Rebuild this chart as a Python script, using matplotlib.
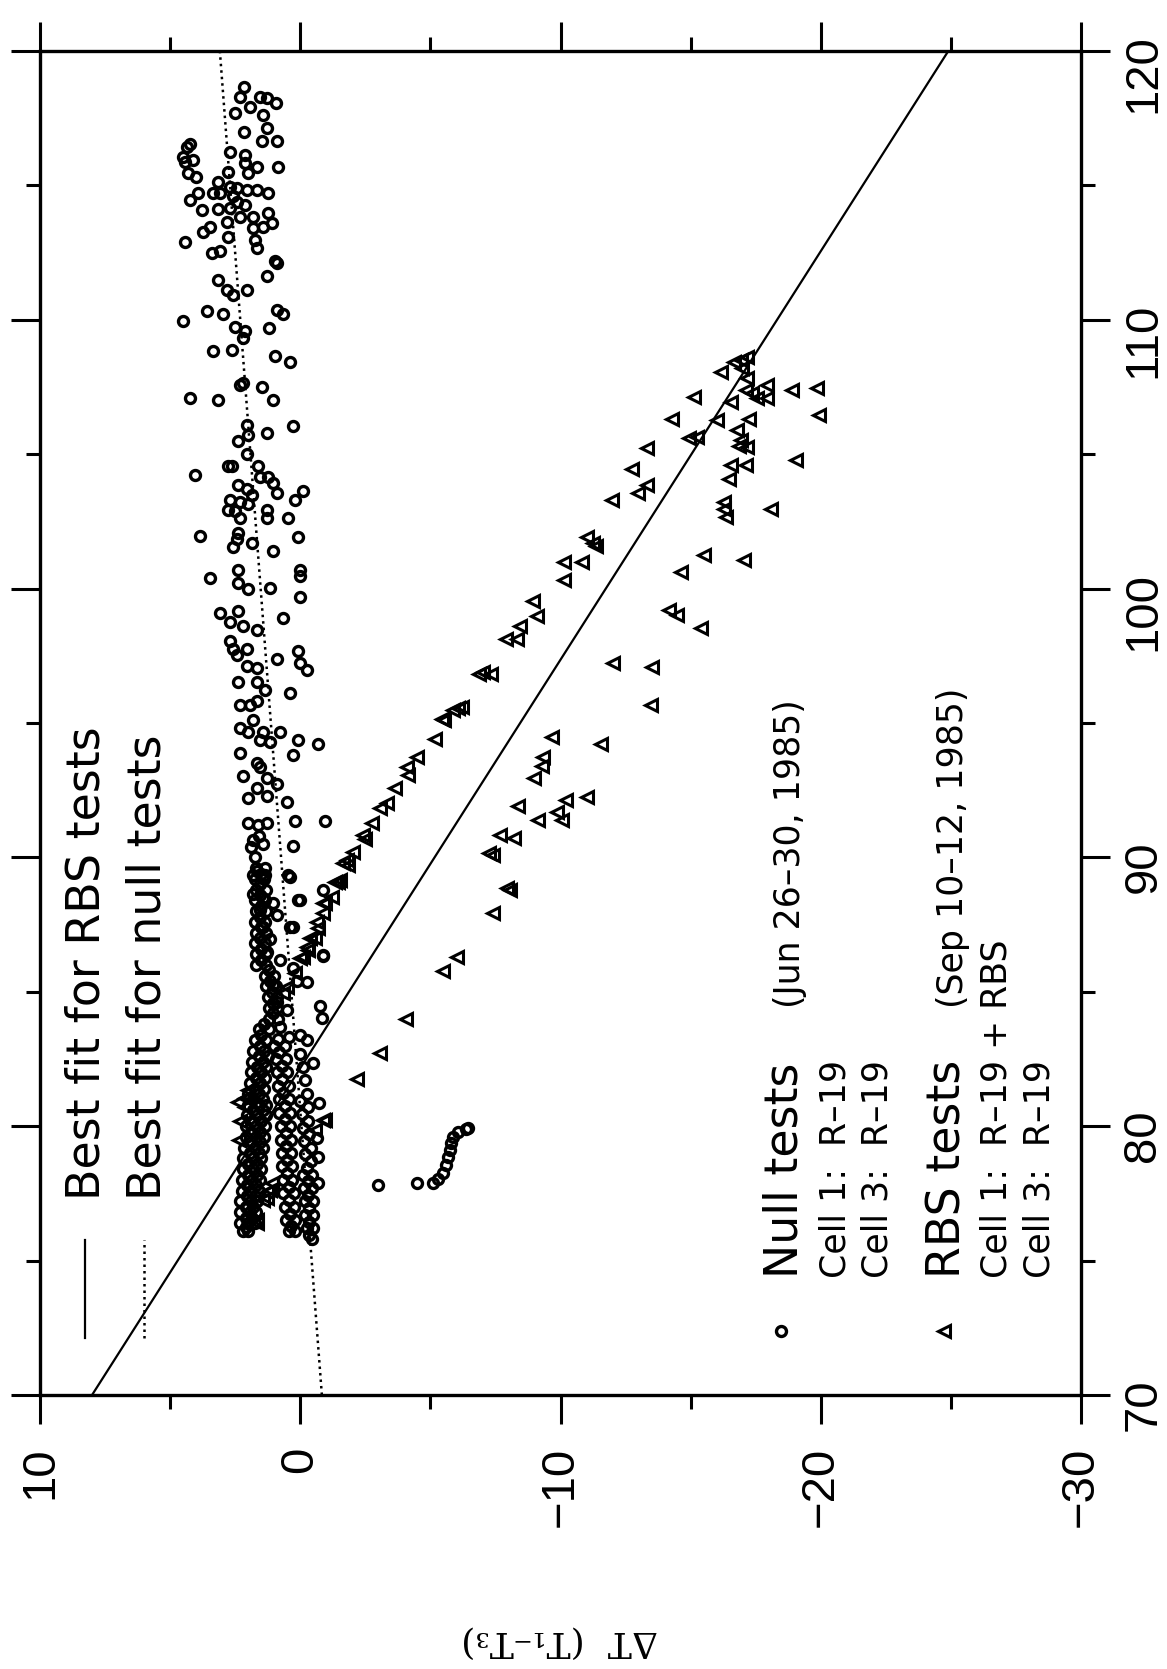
import matplotlib
matplotlib.use("Agg")
import matplotlib.pyplot as plt
import numpy as np

# x: outdoor temperature (right axis, 70..120), dT: T1 - T3 (bottom axis, 10..-30)
# the whole page is drawn rotated, so dT runs left->right and X runs bottom->top

# best fit lines, given as dT at X = 70 and X = 120
FIT_X = [70, 120]
RBS_FIT_DT = [8.0, -24.9]
NULL_FIT_DT = [-0.83, 3.09]

# Null tests (circles): (dT, X)
null_top = [
    (2.17, 118.66), (2.32, 118.29), (1.94, 117.92), (1.55, 118.29), (1.29, 118.25), (0.94, 118.07),
    (2.51, 117.69), (1.44, 117.62), (2.17, 116.99), (1.29, 117.13), (1.48, 116.65), (0.90, 116.65),
    (0.86, 115.68), (2.71, 116.24), (2.13, 116.13), (2.13, 115.83), (1.67, 115.68), (2.02, 115.46),
    (4.24, 116.54), (4.36, 116.43), (4.51, 116.06), (4.43, 115.87), (4.13, 115.94), (4.32, 115.46),
    (4.01, 115.31), (2.78, 115.50), (3.17, 115.13), (2.71, 114.94), (3.36, 114.72), (3.09, 114.72),
    (2.44, 114.90), (2.05, 114.83), (1.67, 114.83), (1.25, 114.72), (3.93, 114.72), (4.24, 114.46),
    (2.59, 114.60), (2.44, 114.38), (3.78, 114.08), (3.17, 114.12), (2.71, 114.16), (2.13, 114.27),
    (2.32, 113.82), (1.82, 113.82), (1.25, 113.97), (1.09, 113.60), (1.44, 113.45), (1.82, 113.42),
    (2.82, 113.64), (3.47, 113.45), (3.74, 113.27), (2.78, 113.08), (1.75, 112.97), (4.43, 112.89),
    (1.67, 112.67), (3.40, 112.49), (3.09, 112.56), (0.98, 112.19), (0.90, 112.11), (1.29, 111.63),
    (3.17, 111.48), (2.82, 111.11), (2.59, 110.92), (2.05, 111.11), (3.59, 110.33), (2.97, 110.22),
    (4.51, 109.96), (0.90, 110.37), (0.67, 110.22), (2.51, 109.73), (2.13, 109.58), (2.21, 109.32),
    (1.21, 109.70), (3.36, 108.84), (2.63, 108.88), (0.98, 108.65), (0.40, 108.43), (2.32, 107.57),
    (2.21, 107.65), (1.48, 107.50), (4.24, 107.09), (3.17, 107.02), (1.06, 107.02),
]

null_mid = [
    (2.05, 106.09), (0.29, 106.05), (2.40, 105.49), (2.02, 105.71), (1.29, 105.79), (2.05, 105.00),
    (4.05, 104.23), (2.78, 104.56), (2.63, 104.56), (1.63, 104.56), (1.55, 104.15), (1.25, 104.15),
    (1.06, 103.93), (0.90, 103.56), (2.40, 103.85), (2.05, 103.71), (1.86, 103.48), (2.71, 103.30),
    (2.32, 103.22), (2.02, 103.15), (0.21, 103.30), (-0.10, 103.63), (2.78, 102.92), (2.51, 102.89),
    (2.32, 102.63), (1.29, 102.92), (1.29, 102.63), (0.48, 102.63), (3.86, 101.96), (2.40, 102.07),
    (2.44, 101.85), (1.86, 101.70), (0.10, 101.92), (2.59, 101.55), (1.06, 101.40), (2.40, 100.69),
    (0.02, 100.69), (3.47, 100.39), (2.40, 100.21), (2.02, 99.99), (1.17, 100.02), (0.02, 100.47),
    (0.02, 99.69), (2.40, 99.17), (3.09, 99.10), (0.67, 98.91), (2.71, 98.76), (2.21, 98.61),
    (1.67, 98.46), (2.71, 98.05), (2.59, 97.75), (2.05, 97.75), (0.10, 97.68), (-0.25, 96.97),
    (0.02, 97.23), (2.44, 97.53), (0.90, 97.38), (2.05, 97.12), (1.67, 97.05), (2.40, 96.53),
    (1.67, 96.53), (1.36, 96.23), (0.40, 96.12), (2.32, 95.67), (1.94, 95.67), (1.67, 95.82),
    (1.82, 95.11), (2.32, 94.81), (2.02, 94.67), (1.44, 94.67), (0.79, 94.67), (1.17, 94.29),
    (1.55, 94.37), (0.10, 94.37), (-0.67, 94.22), (0.29, 93.81), (2.32, 93.88), (1.67, 93.51),
    (2.21, 93.03), (1.55, 93.36), (1.29, 92.95), (0.90, 92.73), (1.67, 92.58), (2.02, 92.21),
    (1.29, 92.28), (0.52, 92.06), (2.02, 91.28), (1.63, 91.21), (1.29, 91.28), (0.21, 91.35),
    (-0.94, 91.35), (0.29, 90.42), (1.82, 90.65), (1.44, 90.50), (1.67, 89.49), (1.44, 89.27),
    (0.40, 89.27), (1.82, 88.64), (1.44, 88.49), (0.02, 88.42), (1.55, 88.04), (0.90, 87.86),
    (0.40, 87.41), (1.44, 87.41), (1.17, 86.96), (-0.86, 86.33), (1.29, 86.48), (0.79, 86.18),
    (0.29, 85.89), (0.13, 85.40), (1.06, 85.25), (-0.75, 84.47), (0.90, 84.62), (0.52, 84.32),
    (0.79, 83.69), (0.02, 83.39),
]

null_low = [
    (1.82, 89.35), (1.36, 89.35), (0.48, 89.35), (1.06, 88.30), (0.10, 88.42), (0.29, 87.41),
    (-0.86, 88.79), (-0.86, 86.37), (-0.25, 85.36), (-0.83, 84.03), (-0.25, 83.21), (-0.48, 82.35),
    (-0.71, 80.86), (-0.63, 79.56), (-0.67, 78.85), (-0.67, 77.89), (-2.98, 77.81),
]

null_arc = [
    (-4.47, 77.89), (-5.09, 77.89), (-5.30, 78.05), (-5.49, 78.24), (-5.60, 78.54), (-5.68, 78.84),
    (-5.76, 79.10), (-5.80, 79.36), (-5.87, 79.58), (-6.07, 79.77), (-6.37, 79.89), (-6.45, 79.95),
]

# the dense black mass near X = 76..90: left leg, two right legs, neck and upper column
blob_left = [
    (2.2, 76.1), (2.0, 76.1), (2.3, 76.4), (2.0, 76.4), (1.75, 76.4),
    (2.3, 76.8), (1.95, 76.8), (1.7, 76.8), (2.3, 77.2), (1.9, 77.2), (1.65, 77.2),
    (2.25, 77.6), (1.9, 77.6), (1.6, 77.6), (2.25, 78.0), (1.85, 78.0), (1.55, 78.0),
    (2.2, 78.4), (1.8, 78.4), (1.5, 78.4), (2.2, 78.8), (1.8, 78.8), (1.5, 78.8),
    (2.15, 79.2), (1.75, 79.2), (1.45, 79.2), (2.1, 79.6), (1.7, 79.6), (1.4, 79.6),
    (2.1, 80.0), (1.7, 80.0), (1.35, 80.0), (2.05, 80.4), (1.65, 80.4), (1.3, 80.4),
    (2.0, 80.8), (1.6, 80.8), (1.3, 80.8), (2.0, 81.2), (1.6, 81.2), (1.95, 81.6), (1.55, 81.6),
    (1.9, 82.0), (1.5, 82.0), (1.85, 82.4), (1.45, 82.4), (1.8, 82.8), (1.4, 82.8),
    (1.75, 83.2), (1.3, 83.2), (1.6, 83.6), (1.2, 83.6),
    (2.1, 76.25), (1.85, 76.6), (2.1, 76.6), (1.8, 77.0), (2.1, 77.0), (2.05, 77.4), (1.75, 77.4),
    (2.05, 77.8), (1.7, 77.8), (2.0, 78.2), (1.65, 78.2), (2.0, 78.6), (1.65, 78.6), (1.95, 79.0),
    (1.6, 79.0), (1.9, 79.4), (1.55, 79.4), (1.9, 79.8), (1.55, 79.8), (1.85, 80.2), (1.5, 80.2),
    (1.8, 80.6), (1.45, 80.6), (1.8, 81.0), (1.45, 81.0), (1.75, 81.4), (1.4, 81.4), (1.7, 81.8),
    (1.35, 81.8), (1.65, 82.2), (1.3, 82.2), (1.6, 82.6), (1.25, 82.6), (1.55, 83.0), (1.5, 83.4),
    (1.4, 83.8),
]

blob_right = [
    (0.45, 76.1), (0.2, 76.1), (0.55, 76.5), (0.2, 76.5), (0.6, 77.0), (0.25, 77.0),
    (0.65, 77.5), (0.25, 77.5), (0.65, 78.0), (0.3, 78.0), (0.7, 78.5), (0.3, 78.5),
    (0.7, 79.0), (0.35, 79.0), (0.75, 79.5), (0.35, 79.5), (0.75, 80.0), (0.4, 80.0),
    (0.8, 80.5), (0.4, 80.5), (0.8, 81.0), (0.45, 81.0), (0.85, 81.5), (0.45, 81.5),
    (0.9, 82.0), (0.5, 82.0), (0.95, 82.5), (0.55, 82.5), (1.0, 83.0), (0.6, 83.0),
    (0.35, 76.3), (0.4, 76.75), (0.45, 77.25), (0.45, 77.75), (0.5, 78.25), (0.5, 78.75),
    (0.55, 79.25), (0.55, 79.75), (0.6, 80.25), (0.6, 80.75), (0.65, 81.25), (0.7, 81.75),
    (0.7, 82.25), (0.8, 82.75), (0.85, 83.25), (0.45, 83.3),
    (-0.45, 75.8), (-0.5, 76.2), (-0.25, 76.2), (-0.5, 76.7), (-0.2, 76.7), (-0.5, 77.2),
    (-0.2, 77.2), (-0.45, 77.7), (-0.15, 77.7), (-0.45, 78.2), (-0.1, 78.2), (-0.4, 78.7),
    (-0.4, 79.2), (-0.35, 79.7), (-0.3, 80.2), (-0.3, 80.7), (-0.25, 81.2), (-0.2, 81.7),
    (-0.1, 82.2), (0.0, 82.7),
    (-0.35, 75.95), (-0.35, 76.45), (-0.35, 76.95), (-0.3, 77.45), (-0.3, 77.95), (-0.25, 78.45),
    (-0.2, 78.95), (-0.15, 79.45), (-0.1, 79.95), (-0.05, 80.45), (0.0, 80.95),
]

blob_upper = [
    (1.2, 84.0), (0.85, 84.0), (1.2, 84.4), (0.9, 84.4), (1.25, 84.8), (0.9, 84.8),
    (1.3, 85.2), (0.95, 85.2), (1.35, 85.6), (1.0, 85.6),
    (1.05, 84.2), (1.05, 84.6), (1.1, 85.0), (1.15, 85.4), (1.2, 85.8),
    (1.7, 86.0), (1.3, 86.0), (1.7, 86.4), (1.3, 86.4), (1.75, 86.8), (1.35, 86.8),
    (1.7, 87.2), (1.3, 87.2), (1.75, 87.6), (1.35, 87.6), (1.7, 88.0), (1.3, 88.0),
    (1.75, 88.4), (1.35, 88.4), (1.7, 88.8), (1.3, 88.8), (1.75, 89.2), (1.4, 89.2),
    (1.7, 89.6), (1.35, 89.6), (1.75, 90.0), (1.9, 90.4), (1.6, 90.8),
    (1.5, 86.2), (1.5, 86.6), (1.55, 87.0), (1.5, 87.4), (1.55, 87.8), (1.5, 88.2),
    (1.55, 88.6), (1.55, 89.0), (1.5, 89.4),
]

# RBS tests (triangles): (dT, X)
rbs_start = [
    (2.02, 81.09), (2.13, 81.05), (2.02, 81.35), (1.29, 77.55), (1.44, 77.25), (1.67, 76.40),
    (1.17, 77.63), (1.29, 77.33), (1.67, 76.51), (2.14, 80.70), (-0.94, 80.23), (-0.86, 80.23),
    (-0.56, 79.86), (2.30, 80.20), (2.35, 79.50), (1.10, 77.90), (2.40, 80.90),
]

rbs_upper = [
    (0.67, 84.96), (0.52, 85.18), (0.21, 85.70), (0.02, 86.26), (-0.10, 86.29), (-0.29, 86.56),
    (-0.25, 86.67), (-0.36, 87.00), (-0.56, 87.00), (-0.67, 87.37), (-0.63, 87.60), (-0.86, 87.93),
    (-0.86, 88.30), (-0.94, 88.30), (-1.21, 88.53), (-1.32, 89.08), (-1.44, 89.08), (-1.52, 89.16),
    (-1.63, 89.79), (-1.82, 89.72), (-1.79, 89.90), (-2.02, 90.20), (-2.48, 90.68), (-2.40, 90.83),
    (-2.74, 91.28), (-3.05, 91.84), (-3.32, 92.02), (-3.63, 92.58), (-4.13, 93.07), (-4.09, 93.36),
    (-4.47, 93.74), (-5.16, 94.40), (-5.51, 95.11), (-5.43, 95.15), (-5.85, 95.48), (-6.20, 95.60),
    (-6.08, 95.56), (-6.85, 96.82), (-7.04, 96.90), (-7.31, 96.82), (-7.89, 98.13), (-8.31, 98.13),
    (-8.43, 98.61), (-9.08, 98.98), (-8.93, 99.54), (-10.15, 100.32), (-10.15, 100.99),
    (-10.84, 100.99), (-11.00, 101.92), (-11.23, 101.70), (-11.35, 101.60), (-11.96, 103.30),
    (-12.96, 103.56), (-13.34, 103.85), (-12.76, 104.45), (-13.34, 105.23), (-14.30, 106.31),
    (-15.14, 107.13), (-14.95, 105.60), (-15.26, 105.64), (-16.18, 108.06), (-16.68, 108.43),
    (-16.95, 108.51), (-17.18, 108.62), (-16.99, 108.21), (-17.18, 107.84),
]

rbs_cluster = [
    (-17.14, 107.39), (-17.37, 107.28), (-17.56, 107.09), (-17.95, 107.57), (-17.95, 107.09),
    (-18.91, 107.39), (-19.87, 107.46), (-19.94, 106.46), (-17.26, 106.31), (-16.56, 106.94),
    (-16.03, 106.27), (-16.79, 105.90), (-16.95, 105.53), (-16.87, 105.31), (-17.18, 105.27),
    (-16.56, 104.60), (-17.14, 104.60), (-16.49, 104.08), (-19.06, 104.78), (-16.30, 103.22),
    (-16.30, 102.96), (-16.37, 102.66), (-18.10, 102.96), (-15.53, 101.25), (-17.06, 101.06),
    (-14.64, 100.62), (-14.18, 99.20), (-14.49, 99.02), (-15.41, 98.53), (-12.00, 97.23),
    (-13.53, 97.08), (-13.49, 95.67),
]

rbs_lower = [
    (-9.69, 94.48), (-11.57, 94.22), (-9.31, 93.74), (-9.27, 93.40), (-9.00, 92.95), (-11.00, 92.25),
    (-10.23, 92.14), (-8.35, 91.91), (-9.88, 91.69), (-10.04, 91.39), (-9.12, 91.39), (-7.66, 90.83),
    (-8.23, 90.72), (-7.27, 90.16), (-7.40, 90.10), (-7.93, 88.86), (-8.05, 88.80), (-7.39, 87.93),
    (-6.01, 86.29), (-5.47, 85.77), (-4.05, 83.99), (-3.05, 82.72), (-2.17, 81.76),
]

DT_TICKS = [10, 0, -10, -20, -30]
X_TICKS = [70, 80, 90, 100, 110, 120]

TEXT_FONT = "DejaVu Sans"
TICK_FONT = "Liberation Sans"


def to_xy(points):
    arr = np.array(points)
    return arr[:, 0], arr[:, 1]


def rtext(ax, fx, fy, s, size):
    # rotated text anchored at the start of its baseline (axes fraction)
    ax.text(fx, fy, s, transform=ax.transAxes, rotation=90, rotation_mode="anchor",
            ha="left", va="baseline", fontsize=size, family=TEXT_FONT)


def main() -> None:
    fig = plt.figure(figsize=(11.67, 16.69), dpi=100)
    ax = fig.add_axes([0.0343, 0.1642, 0.8920, 0.8052])

    circle_style = dict(linestyle="none", marker="o", markersize=7.2, markerfacecolor="none",
                        markeredgecolor="black", markeredgewidth=2.4)
    tri_style = dict(linestyle="none", marker="<", markersize=8.4, markerfacecolor="none",
                     markeredgecolor="black", markeredgewidth=2.2)

    for group in (null_top, null_mid, null_low, null_arc, blob_left, blob_right, blob_upper):
        dt, x = to_xy(group)
        ax.plot(dt, x, **circle_style)
    for group in (rbs_start, rbs_upper, rbs_cluster, rbs_lower):
        dt, x = to_xy(group)
        ax.plot(dt, x, **tri_style)

    ax.plot(RBS_FIT_DT, FIT_X, color="black", lw=1.6, solid_capstyle="butt")
    ax.plot(NULL_FIT_DT, FIT_X, color="black", lw=1.8, linestyle=(0, (1, 1.6)))

    ax.set_xlim(10, -30)
    ax.set_ylim(70, 120)

    for side in ax.spines.values():
        side.set_linewidth(2.4)

    ax.set_xticks(DT_TICKS)
    ax.set_xticks(np.array(DT_TICKS[:-1]) - 5, minor=True)
    ax.set_yticks(X_TICKS)
    ax.set_yticks(np.array(X_TICKS[:-1]) + 5, minor=True)
    ax.set_xticklabels([str(v).replace("-", "\u2212") for v in DT_TICKS], rotation=90,
                       family=TICK_FONT, fontsize=34)
    ax.set_yticklabels([str(v) for v in X_TICKS], rotation=90, family=TICK_FONT, fontsize=34)
    ax.tick_params(which="both", direction="out", top=True, bottom=True, left=True, right=True,
                   labelleft=False, labelright=True, labeltop=False, labelbottom=True, width=2.2)
    ax.tick_params(which="major", length=21)
    ax.tick_params(which="minor", length=10)
    ax.tick_params(axis="x", which="major", pad=16)
    ax.tick_params(axis="y", which="major", pad=8)

    # legend for the fit lines
    ax.plot([0.0432, 0.0432], [0.0424, 0.1153], transform=ax.transAxes, color="black", lw=1.6)
    ax.plot([0.0999, 0.0999], [0.0424, 0.1153], transform=ax.transAxes, color="black", lw=1.8,
            linestyle=(0, (1, 1.6)))
    rtext(ax, 0.0576, 0.1451, "Best fit for RBS tests", 33)
    rtext(ax, 0.1153, 0.1451, "Best fit for null tests", 33)

    # legend for the markers
    ax.plot([0.7118], [0.0476], transform=ax.transAxes, **circle_style)
    ax.plot([0.8684], [0.0476], transform=ax.transAxes, **tri_style)
    rtext(ax, 0.7281, 0.0871, "Null tests", 33)
    rtext(ax, 0.7301, 0.2879, "(Jun 26\u201330, 1985)", 25)
    rtext(ax, 0.7733, 0.0871, "Cell 1:  R\u201319", 25)
    rtext(ax, 0.8146, 0.0871, "Cell 3:  R\u201319", 25)
    rtext(ax, 0.8838, 0.0871, "RBS tests", 33)
    rtext(ax, 0.8866, 0.2879, "(Sep 10\u201312, 1985)", 25)
    rtext(ax, 0.9289, 0.0871, "Cell 1:  R\u201319 + RBS", 25)
    rtext(ax, 0.9702, 0.0871, "Cell 3:  R\u201319", 25)

    fig.text(560 / 1167, 1 - 1642 / 1669, "\u0394T  (T\u2081\u2013T\u2083)", rotation=180,
             ha="center", va="center", fontsize=26, family="DejaVu Serif")

    fig.savefig("out.png", dpi=100, facecolor="white")
    plt.close(fig)


if __name__ == "__main__":
    main()
